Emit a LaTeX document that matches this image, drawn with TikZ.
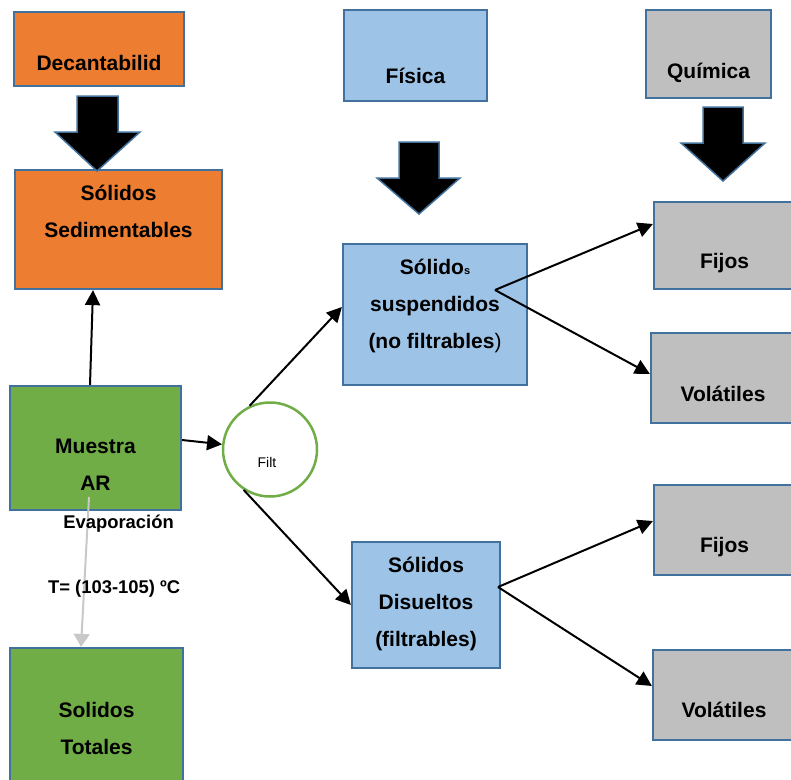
\documentclass[tikz,border=0pt]{standalone}
\usepackage{fontspec}
\setmainfont{Liberation Sans}
\usetikzlibrary{arrows.meta}
\definecolor{naranja}{HTML}{ED7D31}
\definecolor{celeste}{HTML}{9DC3E6}
\definecolor{gris}{HTML}{BFBFBF}
\definecolor{verde}{HTML}{70AD47}
\definecolor{borde}{HTML}{41719C}
\definecolor{grislinea}{HTML}{C8C8C8}

\begin{document}
\begin{tikzpicture}[x=1pt,y=-1pt,
caja/.style={rectangle,draw=borde,line width=2.2pt,inner sep=0pt},
texto/.style={font=\bfseries\fontsize{21}{37}\selectfont,align=center,inner sep=0pt},
flecha/.style={-{Triangle[length=15pt,width=15pt]},line width=2pt,black},
bloque/.style={fill=black,draw=borde,line width=1.5pt,line join=miter},
etiqueta/.style={font=\bfseries\fontsize{18.4}{22}\selectfont,text=black,inner sep=0pt}]
\useasboundingbox (0,0) rectangle (791,779);
%decantabilidad
  \node[caja,fill=naranja,minimum width=170pt,minimum height=74pt,
    label={[texto,yshift=-14pt]center:Decantabilid}] (dec) at (99,49) {};
  \node[caja,fill=naranja,minimum width=207pt,minimum height=119pt,
    label={[texto,yshift=18pt]center:Sólidos\\Sedimentables}] (sed) at (118.5,229.5) {};
%fisica
  \node[caja,fill=celeste,minimum width=143pt,minimum height=91pt,
    label={[texto,yshift=-20pt]center:Física}] (fis) at (415.5,55.5) {};
  \node[caja,fill=celeste,minimum width=184pt,minimum height=141pt,
    label={[texto,yshift=9pt]center:Sólido{\fontsize{11}{11}\selectfont s}\\suspendidos\\(no filtrables{\mdseries)}}] (sus) at (435,314.5) {};
  \node[caja,fill=celeste,minimum width=148pt,minimum height=126pt,
    label={[texto,yshift=1pt]center:Sólidos\\Disueltos\\(filtrables)}] (dis) at (426,605) {};
%quimica
  \node[caja,fill=gris,minimum width=125pt,minimum height=88pt,
    label={[texto,yshift=-18.5pt]center:Química}] (qui) at (708.5,54) {};
  \node[caja,fill=gris,minimum width=141pt,minimum height=87pt,
    label={[texto,yshift=-18pt]center:Fijos}] (fij1) at (724.5,245.5) {};
  \node[caja,fill=gris,minimum width=144pt,minimum height=90pt,
    label={[texto,yshift=-16pt]center:Volátiles}] (vol1) at (723,378) {};
  \node[caja,fill=gris,minimum width=141pt,minimum height=90pt,
    label={[texto,yshift=-17.5pt]center:Fijos}] (fij2) at (724.5,530) {};
  \node[caja,fill=gris,minimum width=142pt,minimum height=90pt,
    label={[texto,yshift=-15pt]center:Volátiles}] (vol2) at (724,695) {};
%muestra
  \node[caja,fill=verde,minimum width=171pt,minimum height=124pt,
    label={[texto,yshift=-16.5pt]center:Muestra\\AR}] (mue) at (95.5,448) {};
  \node[caja,fill=verde,minimum width=173pt,minimum height=137pt,
    label={[texto,yshift=-11.5pt]center:Solidos\\Totales}] (tot) at (96.5,716.5) {};
%filtro
  \node[circle,draw=verde,line width=2.5pt,minimum size=94pt,inner sep=0pt,
    label={[font=\fontsize{14}{16}\selectfont,inner sep=0pt,xshift=-3pt,yshift=-13pt]center:Filt}] (filt) at (270,449.5) {};
%flechas gruesas
  \filldraw[bloque] (77,96) -- (118,96) -- (118,132) -- (140,132) -- (97,171)
    -- (55,132) -- (77,132) -- cycle;
  \filldraw[bloque] (399,142) -- (439,142) -- (439,178) -- (460,178) -- (419,214)
    -- (377,178) -- (399,178) -- cycle;
  \filldraw[bloque] (703,107) -- (743,107) -- (743,143) -- (765,143) -- (723,181)
    -- (681,143) -- (703,143) -- cycle;
%paths
  \coordinate (susout) at (495,290);
  \coordinate (disout) at (498,587);
  \coordinate (evap) at (89,497);
  \path[flecha]
    ([xshift=-5.5pt]mue.north) edge ([xshift=-25.5pt]sed.south)
    ([yshift=8pt]mue.east) edge (filt)
    (filt.115) edge ([yshift=7.5pt]sus.west)
    (filt.237) edge (dis.west)
    (susout) edge ([yshift=21.5pt]fij1.west)
             edge ([yshift=4pt]vol1.west)
    (disout) edge ([yshift=9pt]fij2.west)
             edge ([yshift=9pt]vol2.west);
  \draw[grislinea,line width=2pt,-{Triangle[length=13pt,width=16pt]}]
    (evap) -- ([xshift=-15.5pt]tot.north)
    node[etiqueta,pos=.18,xshift=31pt] (ev) {Evaporación}
    node[etiqueta,pos=.61,xshift=30pt] (temp) {T= (103-105) ºC};
\end{tikzpicture}
\end{document}
